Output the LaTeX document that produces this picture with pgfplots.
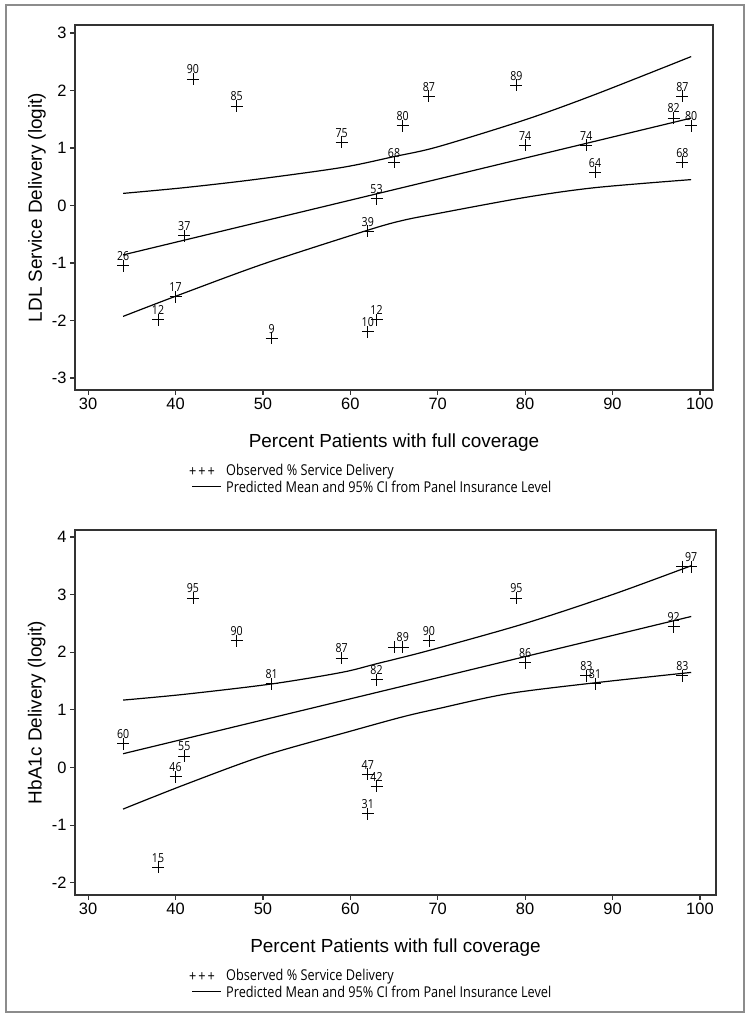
\documentclass[border=0pt]{standalone}
\usepackage{fontspec}
\setmainfont{Liberation Sans}
\newfontfamily\lblfont[FakeStretch=0.85]{Open Sans}
\usepackage{pgfplots}
\usepackage{pgfplotstable}
\pgfplotsset{compat=1.18}

\pgfplotstableread{
x y lab
42 2.20 90
47 1.73 85
59 1.10 75
66 1.39 80
65 0.75 68
63 0.12 53
62 -0.45 39
41 -0.53 37
34 -1.05 26
40 -1.59 17
38 -1.99 12
63 -1.99 12
62 -2.20 10
51 -2.31 9
69 1.90 87
79 2.09 89
80 1.05 74
87 1.05 74
88 0.58 64
98 1.90 87
97 1.52 82
99 1.39 80
98 0.75 68
}\ldlobs

\pgfplotstableread{
x y
34 0.21
41 0.31
49 0.45
59 0.66
65 0.85
70 1.02
80 1.49
88 1.93
99 2.59
}\ldlup
\pgfplotstableread{
x y
34 -0.86
99 1.52
}\ldlmean
\pgfplotstableread{
x y
34 -1.93
40 -1.58
50 -1.02
62 -0.43
66 -0.26
70 -0.14
80 0.14
88 0.31
99 0.45
}\ldllow

\pgfplotstableread{
x y lab
42 2.94 95
47 2.20 90
59 1.90 87
51 1.45 81
63 1.52 82
65 2.09 {}
66 2.09 89
69 2.20 90
34 0.41 60
41 0.20 55
40 -0.16 46
62 -0.12 47
63 -0.32 42
62 -0.80 31
38 -1.73 15
79 2.94 95
80 1.82 86
87 1.59 83
88 1.45 81
98 1.59 83
97 2.44 92
98 3.48 {}
99 3.48 97
}\hbaobs

\pgfplotstableread{
x y
34 1.17
41 1.27
51 1.45
59 1.65
63 1.80
69 2.03
80 2.50
90 3.00
99 3.50
}\hbaup
\pgfplotstableread{
x y
34 0.24
99 2.62
}\hbamean
\pgfplotstableread{
x y
34 -0.72
41 -0.30
50 0.20
60 0.63
66 0.88
70 1.02
78 1.28
88 1.47
99 1.65
}\hbalow

\pgfplotsset{
  myaxis/.style={
    scale only axis,
    height=365bp,
    xmin=28.5,
    xtick={30,40,50,60,70,80,90,100},
    xticklabels={30,40,50,60,70,80,90,100},
    tick align=outside,
    tick pos=left,
    major tick length=5bp,
    axis line style={draw=black!80, line width=1.3bp},
    major tick style={draw=black!80, line width=1.2bp},
    ticklabel style={font=\fontsize{16.5}{18}\selectfont},
    xlabel style={font=\fontsize{19}{22}\selectfont, at={(axis description cs:0.5,-0.145)}, anchor=center},
    ylabel style={font=\fontsize{19}{22}\selectfont, at={(axis description cs:-0.0596,0.5)}, anchor=center},
    clip=false,
  },
  obs/.style={only marks, mark=+, mark size=6bp,
    mark options={line width=0.95bp, draw=black},
    nodes near coords, point meta=explicit symbolic,
    every node near coord/.append style={font=\lblfont\fontsize{12.5}{13}\selectfont, anchor=south, inner sep=0pt, yshift=4.5bp, text=black}},
  fit/.style={black, line width=1.2bp, smooth, no markers},
}

\begin{document}
\begin{tikzpicture}[x=1bp,y=1bp]
\useasboundingbox (0,0) rectangle (750,1018);
\draw[black!45, line width=1.8bp] (6,6) rectangle (744,1013);

\begin{axis}[myaxis,
  at={(75bp,628bp)}, anchor=south west,
  width=638bp,
  xmax=101.5,
  ymin=-3.21, ymax=3.14,
  ytick={-3,-2,-1,0,1,2,3},
  yticklabels={-3,-2,-1,0,1,2,3},
  xlabel={Percent Patients with full coverage},
  ylabel={LDL Service Delivery (logit)},
]
\addplot[obs] table[x=x, y=y, meta=lab] {\ldlobs};
\addplot[fit] table[x=x, y=y] {\ldlup};
\addplot[fit] table[x=x, y=y] {\ldlmean};
\addplot[fit] table[x=x, y=y] {\ldllow};
\end{axis}

\begin{axis}[myaxis,
  at={(75bp,123bp)}, anchor=south west,
  width=641bp,
  xmax=101.84,
  ymin=-2.21, ymax=4.12,
  ytick={-2,-1,0,1,2,3,4},
  yticklabels={-2,-1,0,1,2,3,4},
  xlabel={Percent Patients with full coverage},
  ylabel={HbA1c Delivery (logit)},
]
\addplot[obs] table[x=x, y=y, meta=lab] {\hbaobs};
\addplot[fit] table[x=x, y=y] {\hbaup};
\addplot[fit] table[x=x, y=y] {\hbamean};
\addplot[fit] table[x=x, y=y] {\hbalow};
\end{axis}

% legends
\foreach \yy in {546,41} {
  \node[anchor=west, inner sep=0pt, font=\lblfont\fontsize{15}{17}\selectfont] at (189,\yy) {+\hspace{2bp}+\hspace{2bp}+};
  \node[anchor=west, inner sep=0pt, font=\lblfont\fontsize{15}{17}\selectfont] at (226,\yy) {Observed \% Service Delivery};
  \draw[black, line width=1bp] (192,\yy-15) -- (221,\yy-15);
  \node[anchor=west, inner sep=0pt, font=\lblfont\fontsize{15}{17}\selectfont] at (226,\yy-15) {Predicted Mean and 95\% CI from Panel Insurance Level};
}
\end{tikzpicture}
\end{document}
